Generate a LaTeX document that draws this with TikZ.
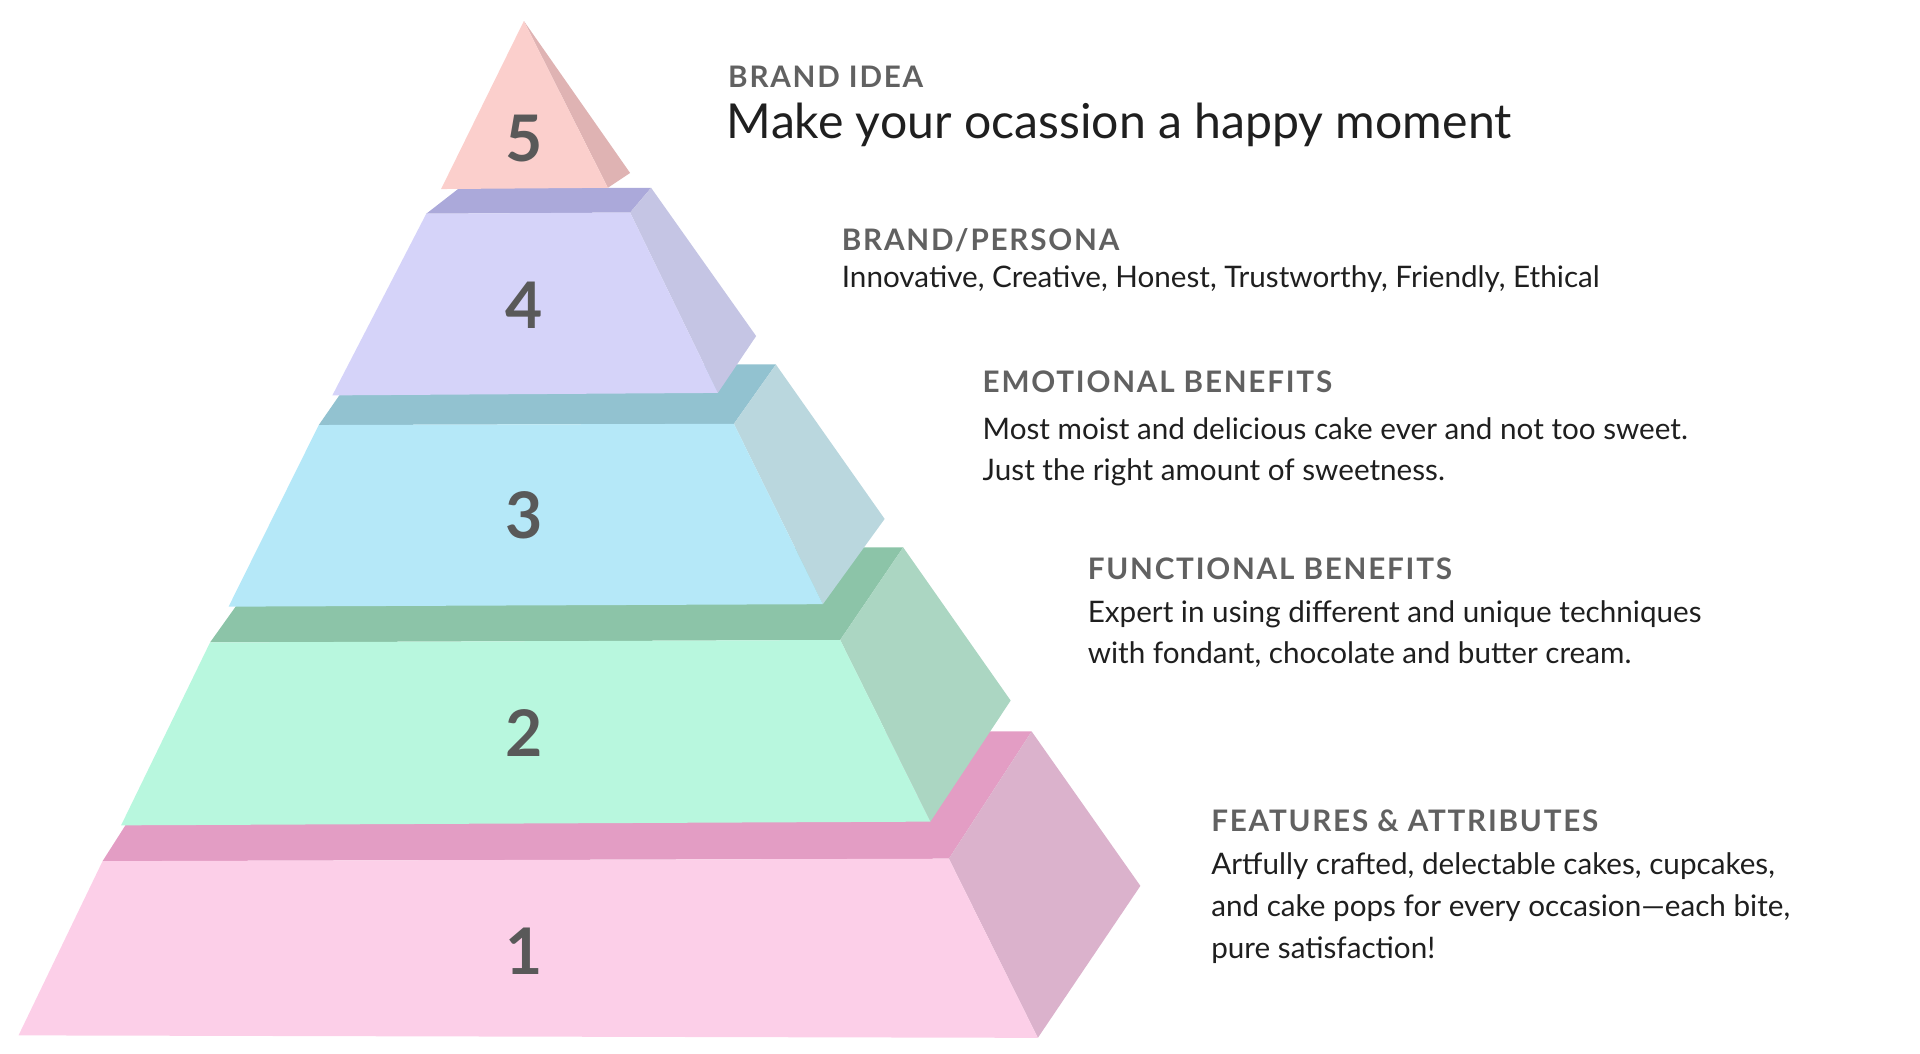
\documentclass[tikz,border=0pt]{standalone}
\usepackage{fontspec}
\setmainfont{Lato}
\begin{document}
\begin{tikzpicture}[x=0.5pt,y=-0.5pt,
  num/.style={font=\fontsize{26}{28}\selectfont\bfseries, text=black!65, anchor=center},
  head/.style={anchor=base west, inner sep=0pt, font=\fontsize{12}{14}\selectfont\bfseries\addfontfeature{LetterSpace=6}, text=black!62},
  body/.style={anchor=base west, inner sep=0pt, font=\fontsize{12}{17}\selectfont, text=black!88}]
\definecolor{f1}{HTML}{FCCFE8}\definecolor{t1}{HTML}{E39DC4}\definecolor{s1}{HTML}{DBB2CC}
\definecolor{f2}{HTML}{B8F7DE}\definecolor{t2}{HTML}{8CC4A8}\definecolor{s2}{HTML}{ABD6C2}
\definecolor{f3}{HTML}{B5E8F8}\definecolor{t3}{HTML}{92C2D0}\definecolor{s3}{HTML}{BAD7DE}
\definecolor{f4}{HTML}{D5D3F9}\definecolor{t4}{HTML}{ABA9DA}\definecolor{s4}{HTML}{C5C5E4}
\definecolor{f5}{HTML}{FBCFCC}\definecolor{s5}{HTML}{DFB3B3}
\useasboundingbox (0,0) rectangle (1554,853);
% layer 1
\fill[t1] (83,697)--(768,695)--(835,592)--(150,592)--cycle;
\fill[s1] (768,695)--(835,592)--(923,717)--(840,840)--cycle;
\fill[f1] (15,838)--(840,840)--(768,695)--(83,697)--cycle;
% layer 2
\fill[t2] (170,520)--(680,518)--(731,443)--(225,443)--cycle;
\fill[s2] (680,518)--(731,443)--(818,567)--(753,665)--cycle;
\fill[f2] (98,668)--(753,665)--(680,518)--(170,520)--cycle;
% layer 3
\fill[t3] (258,344)--(594,343)--(628,295)--(292,295)--cycle;
\fill[s3] (594,343)--(628,295)--(716,420)--(666,489)--cycle;
\fill[f3] (185,491)--(666,489)--(594,343)--(258,344)--cycle;
% layer 4
\fill[t4] (345,173)--(510,172)--(527,152)--(372,152)--cycle;
\fill[s4] (510,172)--(527,152)--(612,272)--(581,318)--cycle;
\fill[f4] (269,320)--(581,318)--(510,172)--(345,173)--cycle;
% layer 5
\fill[s5] (424,17)--(510,140)--(492,152)--cycle;
\fill[f5] (357,153)--(492,152)--(424,17)--cycle;
\node[num] (n5) at (424,112) {5};
\node[num] (n4) at (424,247) {4};
\node[num] (n3) at (424,417) {3};
\node[num] (n2) at (424,593) {2};
\node[num] (n1) at (424,770) {1};
\node[head] (h5) at (589,71) {BRAND IDEA};
\node[anchor=base west, inner sep=0pt, font=\fontsize{19.5}{22}\selectfont, text=black!88] (b5) at (588,112) {Make your ocassion a happy moment};
\node[head] (h4) at (681,203) {BRAND/PERSONA};
\node[body] (b4) at (681,233) {Innovative, Creative, Honest, Trustworthy, Friendly, Ethical};
\node[head] (h3) at (795,318) {EMOTIONAL BENEFITS};
\node[body] (b3a) at (795,356) {Most moist and delicious cake ever and not too sweet.};
\node[body] (b3b) at (795,389) {Just the right amount of sweetness.};
\node[head] (h2) at (880,469) {FUNCTIONAL BENEFITS};
\node[body] (b2a) at (880,504) {Expert in using different and unique techniques};
\node[body] (b2b) at (880,537) {with fondant, chocolate and butter cream.};
\node[head] (h1) at (980,673) {FEATURES \& ATTRIBUTES};
\node[body] (b1a) at (980,708) {Artfully crafted, delectable cakes, cupcakes,};
\node[body] (b1b) at (980,742) {and cake pops for every occasion—each bite,};
\node[body] (b1c) at (980,776) {pure satisfaction!};
\end{tikzpicture}
\end{document}
